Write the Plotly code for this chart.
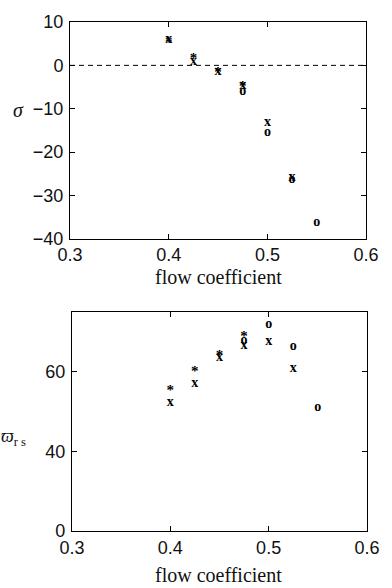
import plotly.graph_objects as go

# ---- data ----
phi_x = [0.4, 0.425, 0.45, 0.475, 0.5, 0.525]
phi_star = [0.4, 0.425, 0.45, 0.475]
phi_o = [0.475, 0.5, 0.525, 0.55]

sigma_x = [5.9, 0.9, -1.3, -4.6, -13.1, -25.8]
sigma_star = [5.0, 1.4, -1.7, -5.0]
sigma_o = [-6.0, -15.4, -26.2, -36.2]

w_x = [52.2, 57.1, 63.6, 66.7, 67.5, 60.8]
w_star = [55.2, 60.0, 63.9, 68.8]
w_o = [67.8, 71.8, 66.4, 51.0]

ref_line_x = [0.3, 0.6]
ref_line_y = [0, 0]

x_ticks = [0.3, 0.4, 0.5, 0.6]
x_ticktext = ["0.3", "0.4", "0.5", "0.6"]
sigma_ticks = [10, 0, -10, -20, -30, -40]
w_tickvals = [20, 40, 60]
w_ticktext = ["0", "40", "60"]

SERIF = "Liberation Serif"
SANS = "Liberation Sans"

fig = go.Figure()

def add_glyph(x, y, ch, size, xa, ya):
    fig.add_trace(go.Scatter(
        x=x, y=y, mode="text", text=[ch] * len(x),
        textposition="middle center",
        textfont=dict(family=SERIF, size=size, color="black", weight="bold"),
        xaxis=xa, yaxis=ya, showlegend=False, hoverinfo="skip"))

# top panel
fig.add_trace(go.Scatter(x=ref_line_x, y=ref_line_y, mode="lines",
                         line=dict(color="black", width=1, dash="5px,4px"),
                         xaxis="x", yaxis="y", showlegend=False, hoverinfo="skip"))
add_glyph(phi_o, sigma_o, "o", 14, "x", "y")
add_glyph(phi_x, sigma_x, "x", 14, "x", "y")
add_glyph(phi_star, sigma_star, "*", 15, "x", "y")

# bottom panel
add_glyph(phi_o, w_o, "o", 14, "x2", "y2")
add_glyph(phi_x, w_x, "x", 14, "x2", "y2")
add_glyph(phi_star, w_star, "*", 15, "x2", "y2")

axis_common = dict(
    showline=True, linecolor="black", linewidth=1, mirror="ticks",
    ticks="inside", ticklen=5, tickcolor="black", tickwidth=1,
    showgrid=False, zeroline=False,
    tickfont=dict(family=SANS, size=18, color="#111"),
)

top_px, top_bot_px = 17, 236
bot_top_px, bot_px = 310, 531
H = 588
plot_h = bot_px - top_px

fig.update_layout(
    width=392, height=588,
    margin=dict(l=70, r=14, t=top_px, b=H - bot_px),
    paper_bgcolor="white", plot_bgcolor="white",
    xaxis=dict(domain=[0, 0.997], range=[0.3, 0.6], tickvals=x_ticks,
               ticktext=x_ticktext, anchor="y", ticklabelstandoff=0, **axis_common),
    yaxis=dict(domain=[(bot_px - top_bot_px) / plot_h, 1], range=[-40, 10],
               tickvals=sigma_ticks, anchor="x", ticklabelstandoff=2, **axis_common),
    xaxis2=dict(domain=[0.0065, 1], range=[0.3, 0.6], tickvals=x_ticks,
                ticktext=x_ticktext, anchor="y2", ticklabelstandoff=0, **axis_common),
    yaxis2=dict(domain=[0, (bot_px - bot_top_px) / plot_h], range=[20, 75],
                tickvals=w_tickvals, ticktext=w_ticktext, anchor="x2",
                ticklabelstandoff=2, **axis_common),
)

def py(p):
    return (bot_px - p) / plot_h

annots = [
    dict(text="flow coefficient", x=0.5, y=py(275), xref="paper", yref="paper",
         showarrow=False, font=dict(family=SERIF, size=20, color="#111"),
         xanchor="center", yanchor="middle"),
    dict(text="flow coefficient", x=0.5, y=py(575), xref="paper", yref="paper",
         showarrow=False, font=dict(family=SERIF, size=20, color="#111"),
         xanchor="center", yanchor="middle"),
    dict(text="<i>σ</i>", x=(17 - 70) / 308, y=py(106), xref="paper", yref="paper",
         showarrow=False, font=dict(family=SERIF, size=20, color="#111"),
         xanchor="center", yanchor="middle"),
    dict(text="<i>ϖ</i><sub>r s</sub>", x=(-4 - 70) / 308, y=py(437), xref="paper", yref="paper",
         showarrow=False, font=dict(family=SERIF, size=18, color="#111"),
         xanchor="left", yanchor="middle"),
]
fig.update_layout(annotations=annots)

fig.write_html("out.html", config={"displayModeBar": False},
               post_script="document.body.style.margin='0';")
